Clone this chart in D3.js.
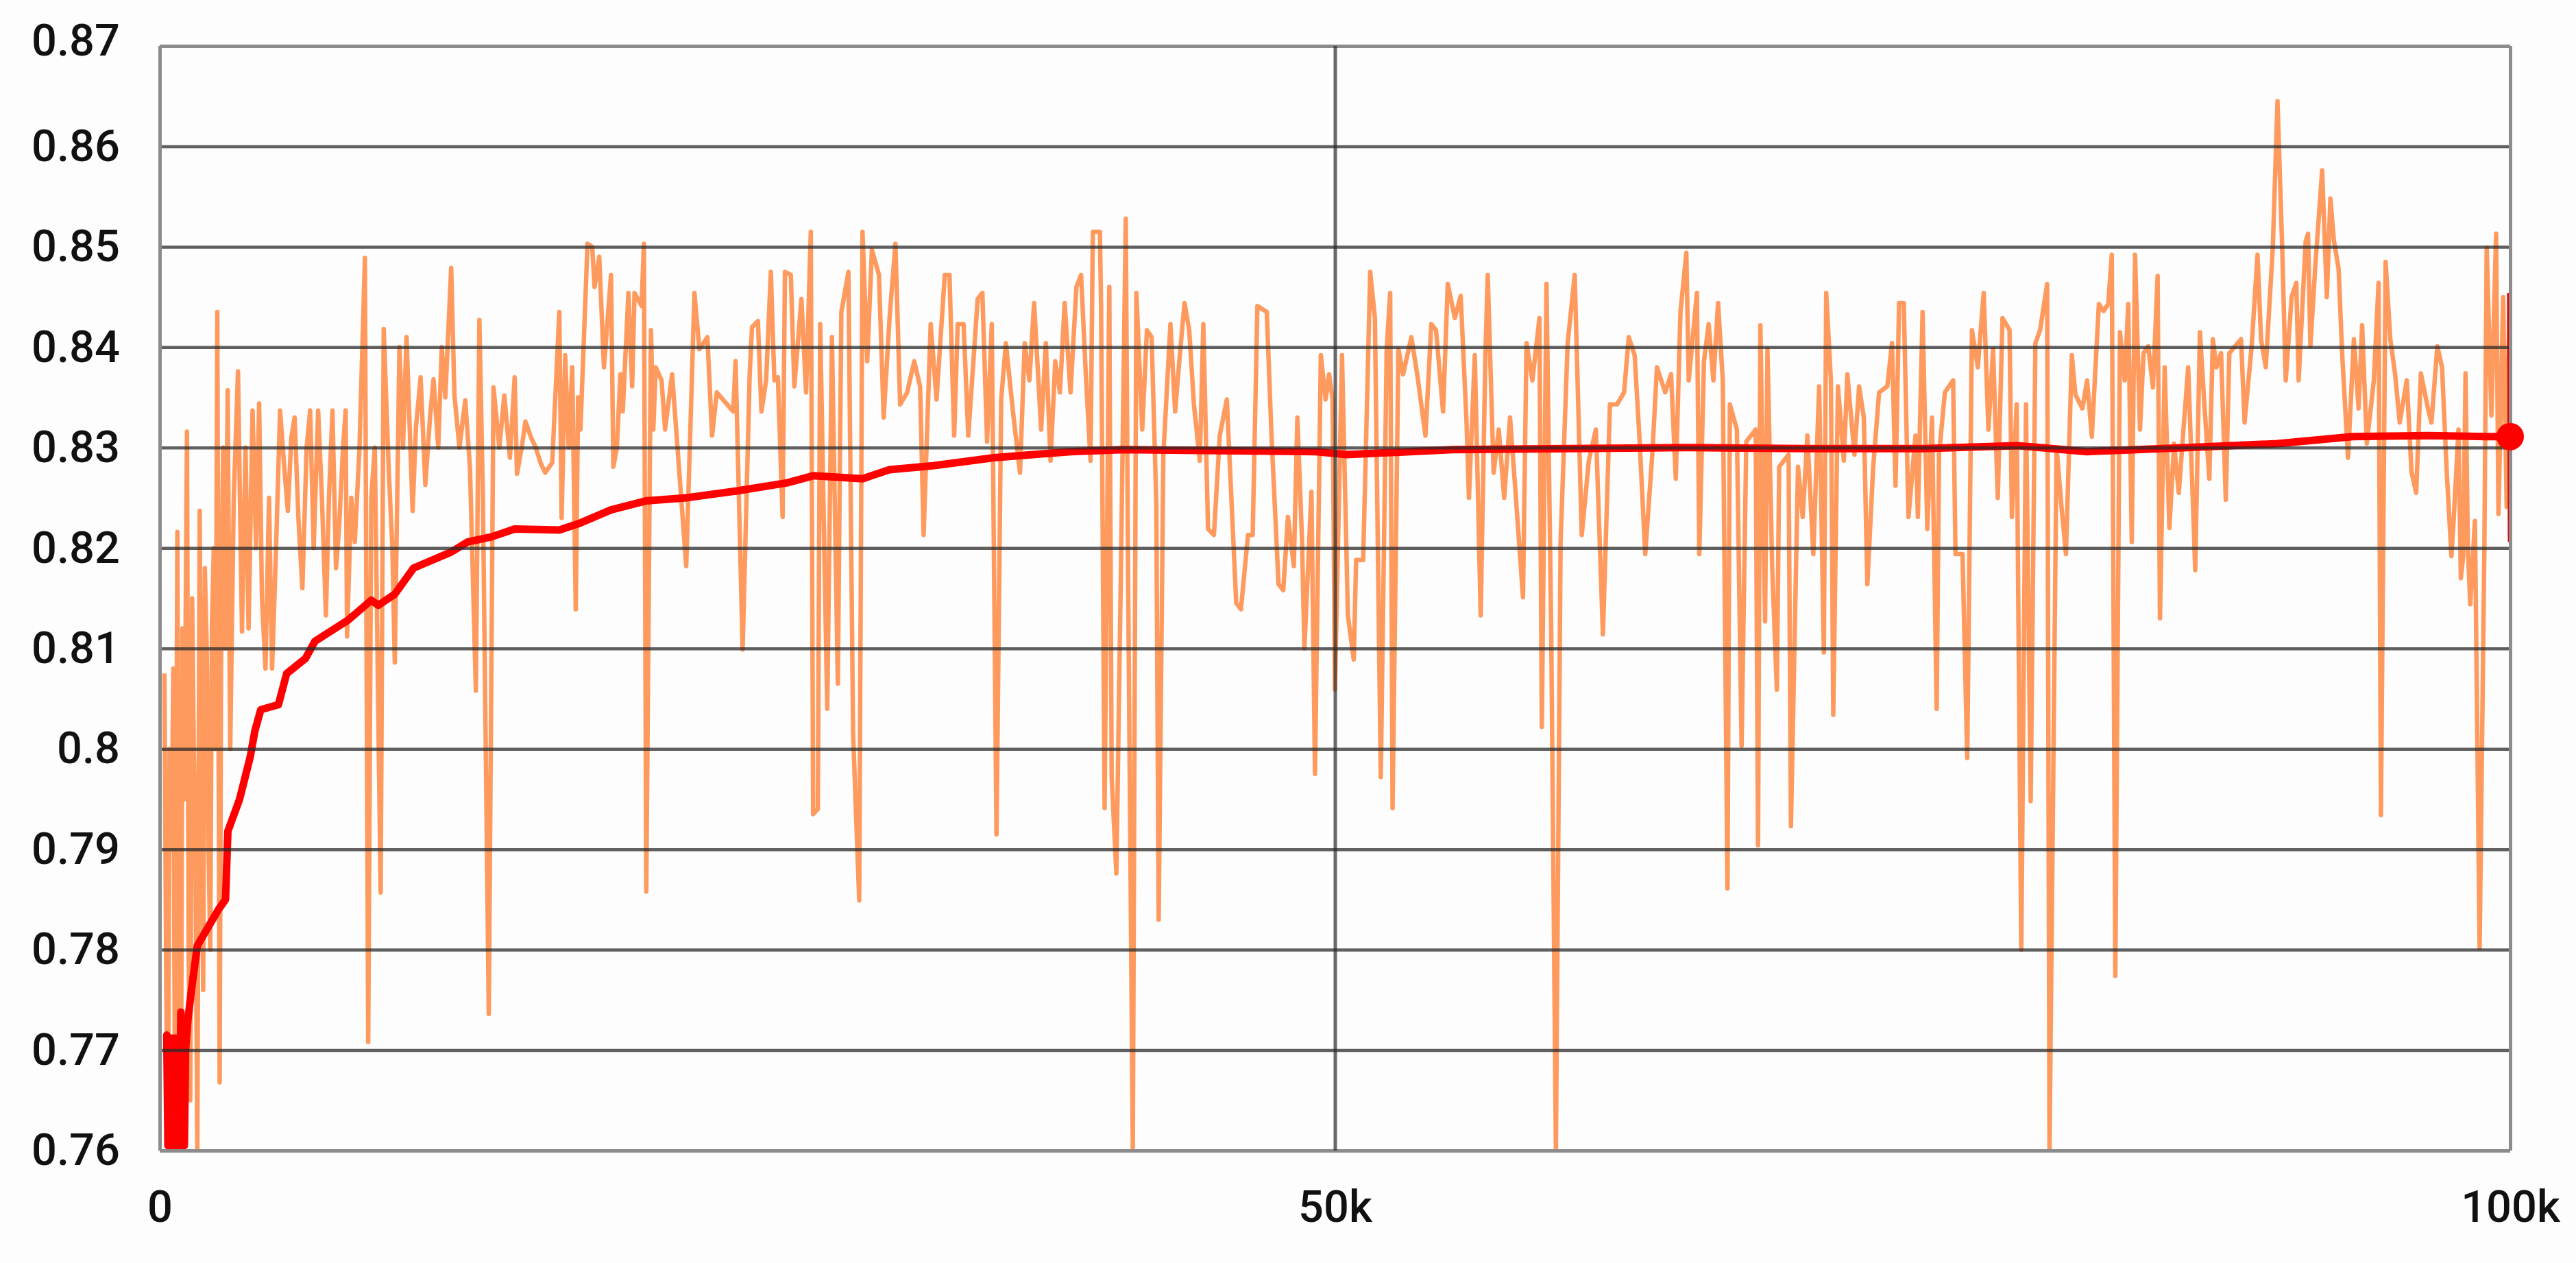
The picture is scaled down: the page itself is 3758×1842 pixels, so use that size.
<!DOCTYPE html>
<html>
<head>
<meta charset="utf-8">
<script src="https://cdn.jsdelivr.net/npm/d3@7"></script>
<style>
  html, body { margin: 0; padding: 0; background: #fdfdfd; }
  svg { display: block; }
</style>
</head>
<body>
<svg id="chart" width="3758" height="1842"></svg>
<script>
// ---------------- DATA ----------------
const yTicks = [0.76, 0.77, 0.78, 0.79, 0.80, 0.81, 0.82, 0.83, 0.84, 0.85, 0.86, 0.87];
const yTickLabels = ["0.76", "0.77", "0.78", "0.79", "0.8", "0.81", "0.82", "0.83", "0.84", "0.85", "0.86", "0.87"];
const xTicks = [0, 50000, 100000];
const xTickLabels = ["0", "50k", "100k"];

// raw accuracy: [step in thousands, value]
const rawAccuracy = [
[0.2,0.8075],[0.28,0.776],[0.35,0.76],[0.42,0.80],[0.5,0.79],[0.58,0.808],[0.65,0.762],[0.75,0.8216],[0.82,0.775],[0.9,0.76],
[0.97,0.812],[1.05,0.795],[1.16,0.8316],[1.23,0.78],[1.3,0.765],[1.38,0.815],[1.45,0.80],[1.52,0.79],[1.6,0.76],[1.7,0.8237],
[1.78,0.795],[1.85,0.776],[1.92,0.818],[2.0,0.81],[2.08,0.79],[2.15,0.78],[2.22,0.812],[2.3,0.82],[2.38,0.80],[2.45,0.8435],
[2.55,0.7668],[2.62,0.815],[2.7,0.83],[2.8,0.81],[2.89,0.8357],
[3.0,0.80],[3.15,0.825],[3.33,0.8376],[3.5,0.8117],[3.65,0.83],[3.78,0.812],[3.95,0.8337],[4.1,0.82],[4.23,0.8344],[4.35,0.815],
[4.5,0.808],[4.65,0.825],[4.78,0.808],[4.95,0.82],[5.12,0.8337],[5.3,0.828],[5.45,0.8237],[5.6,0.831],[5.74,0.833],[5.9,0.823],
[6.07,0.816],[6.25,0.83],[6.4,0.8337],[6.55,0.82],[6.74,0.8337],[6.9,0.825],[7.07,0.8133],[7.2,0.825],[7.35,0.8337],[7.5,0.818],
[7.63,0.822],[7.8,0.83],[7.91,0.8337],[7.97,0.8112],[8.15,0.825],[8.3,0.8206],[8.5,0.83],[8.73,0.8489],[8.87,0.7708],[9.0,0.825],
[9.15,0.83],[9.4,0.7857],[9.53,0.8418],[9.75,0.8274],[9.9,0.82],[10.0,0.8086],[10.2,0.84],[10.35,0.83],[10.5,0.841],[10.76,0.8237],
[10.9,0.832],[11.1,0.837],[11.3,0.8263],[11.5,0.833],[11.65,0.8368],[11.85,0.83],[12.0,0.84],[12.15,0.835],[12.4,0.8479],[12.54,0.8352],
[12.75,0.83],[13.0,0.8347],[13.2,0.828],[13.45,0.8058],[13.6,0.8427],[13.75,0.825],[14.0,0.7736],[14.2,0.836],[14.45,0.83],[14.66,0.8352],
[14.9,0.829],[15.1,0.837],[15.2,0.8274],[15.4,0.83],[15.56,0.8326],[15.8,0.831],[16.0,0.83],[16.2,0.8285],[16.4,0.8275],[16.7,0.8285],
[17.0,0.8435],[17.1,0.823],[17.25,0.8392],[17.4,0.83],[17.55,0.838],[17.7,0.8139],[17.8,0.835],[17.9,0.8318],[18.2,0.8503],[18.4,0.85],
[18.5,0.846],[18.7,0.849],[18.9,0.838],[19.2,0.8472],[19.3,0.8281],[19.45,0.83],[19.6,0.8373],[19.7,0.8336],[19.94,0.8454],[20.1,0.8361],
[20.2,0.8454],[20.5,0.8441],[20.6,0.8503],[20.7,0.7858],[20.9,0.8417],[21.0,0.8318],[21.1,0.838],[21.35,0.8367],[21.5,0.8318],[21.8,0.8373],
[22.4,0.8182],[22.75,0.8454],[22.96,0.8398],[23.3,0.841],[23.5,0.8312],[23.7,0.8355],[24.4,0.8336],[24.5,0.8386],[24.8,0.8099],[25.1,0.8373],
[25.2,0.842],[25.45,0.8426],[25.6,0.8336],[25.8,0.8367],[26.0,0.8475],[26.15,0.8367],[26.3,0.837],[26.5,0.8231],[26.6,0.8475],[26.85,0.8472],
[27.0,0.8361],[27.3,0.8448],[27.5,0.8355],[27.7,0.8515],[27.8,0.7935],[28.0,0.794],[28.1,0.8423],[28.4,0.804],[28.6,0.841],[28.85,0.8065],
[29.0,0.8435],[29.3,0.8475],[29.5,0.8015],[29.76,0.7849],[29.9,0.8515],[30.1,0.8386],[30.3,0.8497],[30.6,0.8472],[30.8,0.833],[31.05,0.8429],
[31.3,0.8503],[31.5,0.8343],[31.8,0.8355],[32.1,0.8386],[32.35,0.8361],[32.5,0.8213],[32.8,0.8423],[33.05,0.8348],[33.4,0.8472],[33.6,0.8472],
[33.8,0.8312],[33.95,0.8423],[34.2,0.8423],[34.4,0.8312],[34.8,0.8448],[35.0,0.8454],[35.2,0.8306],[35.4,0.8423],[35.6,0.7915],[35.8,0.8348],
[36.0,0.8404],[36.3,0.8336],[36.6,0.8275],[36.8,0.8404],[37.0,0.8367],[37.2,0.8444],[37.5,0.8318],[37.7,0.8404],[37.9,0.8287],[38.1,0.8386],
[38.3,0.8355],[38.5,0.8444],[38.75,0.8355],[39.0,0.846],[39.2,0.8472],[39.4,0.8373],[39.6,0.8287],[39.7,0.8515],[40.0,0.8515],[40.05,0.8441],
[40.2,0.7941],[40.4,0.846],[40.5,0.7972],[40.7,0.7876],[40.9,0.8188],[41.1,0.8528],[41.2,0.817],[41.4,0.76],[41.55,0.8454],[41.8,0.8318],
[42.0,0.8417],[42.2,0.841],[42.4,0.8244],[42.5,0.783],[42.7,0.8293],[43.0,0.8423],[43.2,0.8336],[43.4,0.8392],[43.6,0.8444],[43.8,0.8417],
[44.0,0.8343],[44.25,0.8287],[44.4,0.8423],[44.6,0.8219],[44.85,0.8213],[45.1,0.8312],[45.4,0.8348],[45.8,0.8145],[46.0,0.8139],[46.3,0.8213],
[46.5,0.8213],[46.7,0.8441],[47.1,0.8435],[47.3,0.8312],[47.6,0.8164],[47.8,0.8158],[48.0,0.8231],[48.25,0.8182],[48.4,0.833],[48.6,0.8207],
[48.7,0.81],[49.0,0.8256],[49.15,0.7975],[49.4,0.8392],[49.6,0.8348],[49.75,0.8373],[49.9,0.8348],[50.0,0.8059],[50.3,0.8392],[50.55,0.8133],
[50.8,0.8089],[50.9,0.8188],[51.2,0.8188],[51.5,0.8475],[51.7,0.8429],[51.95,0.7972],[52.2,0.8398],[52.35,0.8454],[52.45,0.7941],[52.7,0.8398],
[52.9,0.8373],[53.25,0.841],[53.5,0.8373],[53.85,0.8312],[54.1,0.8423],[54.3,0.8417],[54.6,0.8336],[54.8,0.8463],[55.1,0.8429],[55.35,0.8451],
[55.6,0.8324],[55.7,0.825],[55.95,0.8392],[56.2,0.8133],[56.4,0.8392],[56.5,0.8472],[56.75,0.8275],[56.97,0.8318],[57.2,0.825],[57.45,0.833],
[57.7,0.825],[58.0,0.8151],[58.15,0.8404],[58.4,0.8367],[58.7,0.8429],[58.8,0.8022],[59.0,0.8463],[59.2,0.812],[59.4,0.76],[59.6,0.8207],
[59.9,0.8404],[60.2,0.8472],[60.5,0.8213],[60.8,0.8287],[61.1,0.8318],[61.4,0.8114],[61.7,0.8343],[62.0,0.8343],[62.3,0.8355],[62.5,0.841],
[62.75,0.8392],[62.95,0.8312],[63.2,0.8194],[63.5,0.8293],[63.7,0.838],[64.05,0.8355],[64.3,0.8373],[64.5,0.8269],[64.7,0.8435],[64.95,0.8494],
[65.05,0.8367],[65.4,0.8454],[65.5,0.8194],[65.7,0.8386],[65.9,0.8423],[66.1,0.8367],[66.3,0.8444],[66.5,0.8367],[66.7,0.7861],[66.8,0.8343],
[67.1,0.8318],[67.3,0.8003],[67.5,0.8306],[67.9,0.8318],[68.0,0.7904],[68.1,0.8422],[68.3,0.8127],[68.4,0.8398],[68.6,0.8182],[68.8,0.8059],
[68.9,0.8281],[69.3,0.8293],[69.4,0.7923],[69.7,0.8281],[69.9,0.8231],[70.1,0.8312],[70.35,0.8194],[70.6,0.8361],[70.8,0.8096],[70.9,0.8454],
[71.1,0.8367],[71.2,0.8034],[71.4,0.8361],[71.65,0.8287],[71.8,0.8373],[72.1,0.8293],[72.3,0.8361],[72.5,0.833],[72.65,0.8164],[72.9,0.8281],
[73.15,0.8355],[73.5,0.8361],[73.7,0.8404],[73.85,0.8262],[74.0,0.8444],[74.2,0.8444],[74.4,0.8231],[74.7,0.8312],[74.8,0.8231],[75.0,0.8435],
[75.2,0.8219],[75.4,0.833],[75.6,0.804],[75.7,0.8293],[75.95,0.8355],[76.3,0.8367],[76.4,0.8194],[76.7,0.8194],[76.9,0.7991],[77.1,0.8417],
[77.35,0.838],[77.6,0.8454],[77.8,0.8318],[78.0,0.8398],[78.2,0.825],[78.4,0.8429],[78.7,0.8417],[78.8,0.8231],[79.0,0.8343],[79.2,0.78],
[79.4,0.8343],[79.6,0.7948],[79.8,0.8404],[80.0,0.8417],[80.3,0.8463],[80.4,0.76],[80.7,0.83],[80.9,0.8244],[81.1,0.8194],[81.35,0.8392],
[81.5,0.8353],[81.8,0.8339],[82.0,0.8367],[82.2,0.8311],[82.5,0.8443],[82.7,0.8436],[82.9,0.8443],[83.05,0.8492],[83.2,0.7774],[83.4,0.8415],
[83.6,0.8367],[83.75,0.8443],[83.9,0.8206],[84.04,0.8492],[84.25,0.8318],[84.4,0.8394],[84.6,0.8401],[84.8,0.836],[85.0,0.8471],[85.1,0.813],
[85.3,0.838],[85.5,0.822],[85.7,0.8304],[85.9,0.8255],[86.1,0.8318],[86.3,0.838],[86.6,0.8178],[86.8,0.8415],[87.0,0.8339],[87.2,0.8269],
[87.35,0.8408],[87.5,0.838],[87.7,0.8394],[87.9,0.8248],[88.05,0.8394],[88.3,0.8401],[88.55,0.8408],[88.7,0.8325],[89.0,0.8401],[89.25,0.8492],
[89.4,0.8408],[89.6,0.838],[89.9,0.8499],[90.1,0.8645],[90.3,0.8499],[90.45,0.8367],[90.7,0.845],[90.9,0.8464],[91.0,0.8367],[91.3,0.8506],
[91.4,0.8513],[91.5,0.8401],[91.7,0.8478],[92.0,0.8576],[92.2,0.845],[92.35,0.8548],[92.5,0.8506],[92.7,0.8478],[92.85,0.8394],[93.1,0.829],
[93.35,0.8408],[93.55,0.8339],[93.7,0.8422],[93.9,0.8304],[94.2,0.8367],[94.4,0.8464],[94.5,0.7934],[94.7,0.8485],[94.9,0.8408],[95.1,0.8374],
[95.3,0.8325],[95.6,0.8367],[95.8,0.8276],[96.0,0.8255],[96.2,0.8374],[96.5,0.8339],[96.65,0.8325],[96.9,0.8401],[97.1,0.838],[97.3,0.8276],
[97.5,0.8192],[97.6,0.8230],[97.8,0.8318],[97.9,0.8170],[98.0,0.8192],[98.1,0.8374],[98.2,0.8200],[98.3,0.8144],[98.5,0.8227],[98.7,0.7802],[98.9,0.8199],[99.0,0.8499],[99.2,0.8332],
[99.4,0.8513],[99.5,0.8234],[99.7,0.845],[99.85,0.8241],[99.97,0.8454]
];

// latest raw segment (highlighted in red at the right edge)
const latestRaw = [[99.97,0.8454],[100,0.8206]];

// smoothed accuracy: [step in thousands, value]
const smoothedAccuracy = [
[0.3,0.7715],[0.35,0.7605],[0.4,0.7712],[0.45,0.7605],[0.5,0.7712],[0.55,0.7605],[0.6,0.7712],[0.65,0.7605],[0.7,0.7712],[0.75,0.7605],
[0.8,0.7712],[0.85,0.7605],[0.9,0.7738],[0.95,0.7605],[1.0,0.772],[1.05,0.7605],[1.1,0.770],[1.2,0.773],[1.35,0.776],[1.6,0.7804],
[2.0,0.782],[2.5,0.784],[2.8,0.785],[2.9,0.7918],[3.4,0.795],[3.85,0.7992],[4.05,0.8018],[4.3,0.8039],[5.05,0.8044],[5.4,0.8075],
[6.2,0.809],[6.6,0.8107],[8.0,0.8128],[8.5,0.8138],[9.0,0.8148],[9.3,0.8143],[10.0,0.8154],[10.8,0.818],[12.4,0.8196],[13.1,0.8206],
[14.1,0.8211],[15.1,0.8219],[17.0,0.8218],[17.9,0.8225],[19.2,0.8238],[20.7,0.8247],[22.4,0.825],[24.6,0.8257],[26.7,0.8265],[27.8,0.8272],
[29.9,0.8269],[31.05,0.8278],[32.9,0.8282],[35.5,0.829],[38.75,0.8296],[41.0,0.8298],[45,0.8297],[49.2,0.8296],[50.5,0.8293],[55,0.8298],
[60,0.8299],[65,0.83],[70,0.8299],[75,0.8299],[79,0.8302],[80,0.83],[82,0.8296],[86.3,0.83],[90.1,0.8304],[93.3,0.8311],
[96.5,0.8312],[99,0.8311],[100,0.8311]
];

// ---------------- CHART ----------------
const svg = d3.select("#chart");
const plot = { left: 233, right: 3662, top: 67, bottom: 1678 };

const x = d3.scaleLinear().domain([0, 100000]).range([plot.left, plot.right]);
const y = d3.scaleLinear().domain([0.76, 0.87]).range([plot.bottom, plot.top]);

svg.append("rect").attr("width", 3758).attr("height", 1842).attr("fill", "#fdfdfd");

svg.append("defs").append("clipPath").attr("id", "clip")
  .append("rect")
  .attr("x", plot.left).attr("y", plot.top)
  .attr("width", plot.right - plot.left).attr("height", plot.bottom - plot.top);

const dataG = svg.append("g").attr("clip-path", "url(#clip)");

const line = d3.line()
  .x(d => x(d[0] * 1000))
  .y(d => y(d[1]));

dataG.append("path")
  .datum(rawAccuracy)
  .attr("d", line)
  .attr("fill", "none")
  .attr("stroke", "#ff9150")
  .attr("stroke-opacity", 0.92)
  .attr("stroke-width", 6.5)
  .attr("stroke-linejoin", "round");

dataG.append("path")
  .datum(smoothedAccuracy)
  .attr("d", line)
  .attr("fill", "none")
  .attr("stroke", "#ff0000")
  .attr("stroke-width", 11)
  .attr("stroke-linejoin", "round")
  .attr("stroke-linecap", "round");

dataG.append("path")
  .datum(latestRaw)
  .attr("d", line)
  .attr("fill", "none")
  .attr("stroke", "#ee0000")
  .attr("stroke-width", 7);

// Y axis with gridlines (drawn over the data, like the reference)
const yAxis = d3.axisLeft(y)
  .tickValues(yTicks)
  .tickFormat((d, i) => yTickLabels[i])
  .tickSize(-(plot.right - plot.left))
  .tickPadding(58);

const yG = svg.append("g")
  .attr("transform", `translate(${plot.left},0)`)
  .call(yAxis);
yG.select(".domain").remove();
yG.selectAll(".tick line")
  .attr("stroke", (d, i) => (i === 0 || i === yTicks.length - 1) ? "#8c8c8c" : "#2a2a2a")
  .attr("stroke-opacity", (d, i) => (i === 0 || i === yTicks.length - 1) ? 1 : 0.75)
  .attr("stroke-width", (d, i) => (i === 0 || i === yTicks.length - 1) ? 5 : 4.5);
yG.selectAll(".tick text")
  .attr("font-family", "Roboto, 'Noto Sans', sans-serif")
  .attr("font-size", 65)
  .attr("font-weight", 500)
  .attr("fill", "#111")
  .attr("dy", (d, i) => i === yTicks.length - 1 ? "0.2em" : "0.32em");

// X axis with gridlines
const xAxis = d3.axisBottom(x)
  .tickValues(xTicks)
  .tickFormat((d, i) => xTickLabels[i])
  .tickSize(-(plot.bottom - plot.top))
  .tickPadding(0);

const xG = svg.append("g")
  .attr("transform", `translate(0,${plot.bottom})`)
  .call(xAxis);
xG.select(".domain").remove();
xG.selectAll(".tick line")
  .attr("stroke", (d, i) => (i === 0 || i === xTicks.length - 1) ? "#8c8c8c" : "#2a2a2a")
  .attr("stroke-opacity", (d, i) => (i === 0 || i === xTicks.length - 1) ? 1 : 0.7)
  .attr("stroke-width", (d, i) => (i === 0 || i === xTicks.length - 1) ? 5 : 5);
xG.selectAll(".tick text")
  .attr("font-family", "Roboto, 'Noto Sans', sans-serif")
  .attr("font-size", 65)
  .attr("font-weight", 500)
  .attr("fill", "#111")
  .attr("y", 104)
  .attr("dy", 0);

// End-point marker of smoothed series
const last = smoothedAccuracy[smoothedAccuracy.length - 1];
svg.append("circle")
  .attr("cx", x(last[0] * 1000))
  .attr("cy", y(last[1]))
  .attr("r", 20)
  .attr("fill", "#ff0000");
</script>
</body>
</html>
